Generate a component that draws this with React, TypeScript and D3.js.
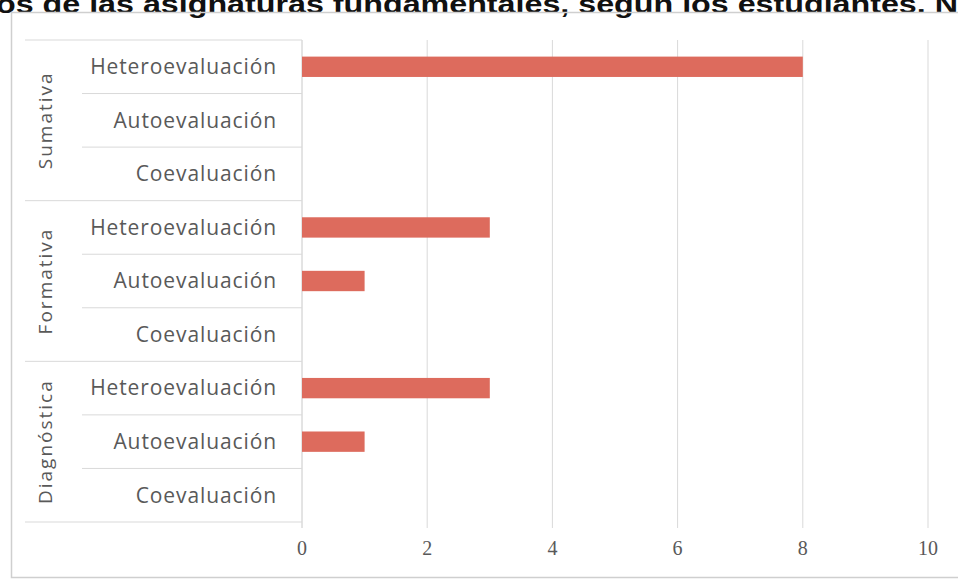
import React from "react";
import * as d3 from "d3";

const groups = ["Sumativa", "Formativa", "Diagnóstica"];
const subcats = ["Heteroevaluación", "Autoevaluación", "Coevaluación"];
// values per group, in subcats order
const sumativaValues = [8, 0, 0];
const formativaValues = [3, 1, 0];
const diagnosticaValues = [3, 1, 0];
const groupValues = [sumativaValues, formativaValues, diagnosticaValues];
const xTicks = [0, 2, 4, 6, 8, 10];
const titleText = "os de las asignaturas fundamentales, según los estudiantes. N";

export default function App() {
  const W = 958, H = 582;
  const top = 40, bottom = 522;
  const rows = groups.flatMap((g, gi) =>
    subcats.map((s, si) => ({ group: g, gi, si, label: s, value: groupValues[gi][si], key: `${gi}-${si}` }))
  );
  const y = d3.scaleBand<string>().domain(rows.map(r => r.key)).range([top, bottom]).paddingInner(0.62).paddingOuter(0.31);
  const step = y.step();
  const x = d3.scaleLinear().domain([0, 10]).range([302, 928]);
  const grid = "#d9d9d9";
  const textCol = "#595959";
  const labelFont = "'Open Sans', sans-serif";

  return (
    <svg width={W} height={H} style={{ position: "absolute", left: 0, top: 0, background: "#fff" }}>
      <text x={-4} y={13} fontFamily="'Liberation Sans', Arial, sans-serif" fontWeight="bold" fontSize={26} fill="#111" textLength={962} lengthAdjust="spacingAndGlyphs">{titleText}</text>
      {/* outer frame */}
      <rect x={11.5} y={12.5} width={960} height={565} fill="none" stroke="#cfcfcf" strokeWidth={1.5} />
      {/* gridlines */}
      {xTicks.map(t => (
        <line key={t} x1={x(t)} x2={x(t)} y1={top} y2={bottom + 6} stroke={t === 0 ? "#c8c8c8" : grid} strokeWidth={1} />
      ))}
      {/* row separators */}
      {rows.map((r, i) => {
        const yy = top + i * step;
        return <line key={r.key} x1={r.si === 0 ? 25 : 82} x2={x(0)} y1={yy} y2={yy} stroke={grid} strokeWidth={1} />;
      })}
      <line x1={25} x2={x(0)} y1={bottom} y2={bottom} stroke={grid} strokeWidth={1} />
      {/* bars */}
      {rows.map(r => (
        <rect key={r.key} x={x(0)} y={y(r.key)} width={x(r.value) - x(0)} height={y.bandwidth()} fill="#dd6b5d" />
      ))}
      {/* category labels */}
      {rows.map(r => (
        <text key={r.key} x={277} y={(y(r.key) as number) + y.bandwidth() / 2} dy="0.35em" textAnchor="end" fontFamily={labelFont} fontSize={21} letterSpacing={0.9} fill={textCol}>{r.label}</text>
      ))}
      {/* group labels */}
      {groups.map((g, gi) => {
        const cy = top + step * (gi * 3 + 1.5);
        return (
          <text key={g} transform={`translate(45,${cy}) rotate(-90)`} textAnchor="middle" dy="0.35em" fontFamily={labelFont} fontSize={19} fill={textCol} letterSpacing={2}>{g}</text>
        );
      })}
      {/* x tick labels */}
      {xTicks.map(t => (
        <text key={t} x={x(t)} y={548} dy="0.35em" textAnchor="middle" fontFamily="'Liberation Serif', serif" fontSize={20} fill={textCol}>{t}</text>
      ))}
    </svg>
  );
}
